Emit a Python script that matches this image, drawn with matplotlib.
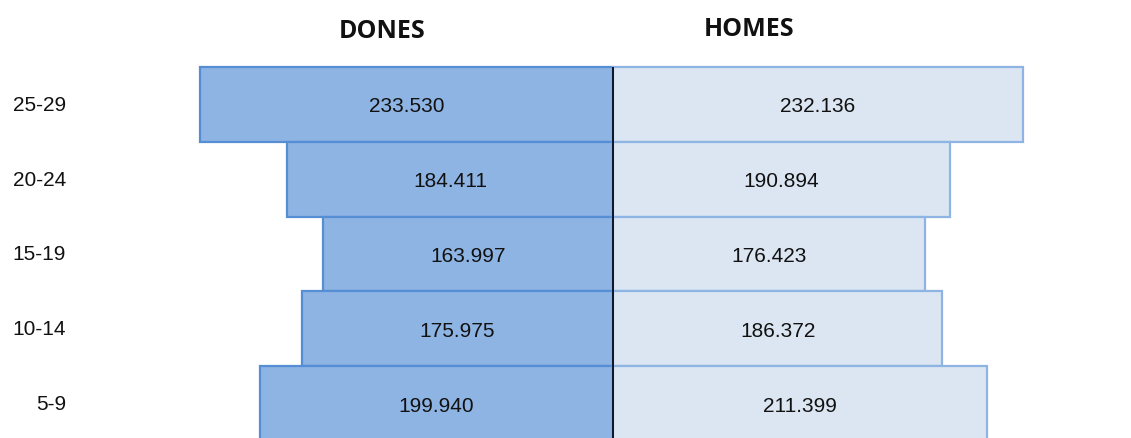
#______importing libraries__________
import matplotlib
matplotlib.use("Agg")
import matplotlib.pyplot as plt
import matplotlib.transforms as mtransforms

#______data__________
groups = ["25-29", "20-24", "15-19", "10-14", "5-9"]  # top to bottom
dones = [233530, 184411, 163997, 175975, 199940]
homes = [232136, 190894, 176423, 186372, 211399]

#______figure setup__________
W, H = 1131, 439
fig = plt.figure(figsize=(W / 100, H / 100), dpi=100)
top_px = 68     # top of the first bar, in pixels from the top
slot_px = 74.8  # height of one age group row
ax_h = len(groups) * slot_px
ax = fig.add_axes([0, (H - top_px - ax_h) / H, 1, ax_h / H])  # bottom row runs off the picture

units_per_px = 1000 / 1.767  # horizontal scale
center_px = 613
ax.set_xlim(-center_px * units_per_px, (W - center_px) * units_per_px)
ax.set_ylim(-0.5, len(groups) - 0.5)
ax.axis("off")

ypos = list(range(len(groups) - 1, -1, -1))

#______bars__________
ax.barh(ypos, [-v for v in dones], height=1.0, color="#8EB4E3",
        edgecolor="#558ED5", linewidth=1.6, clip_on=False, zorder=2)
ax.barh(ypos, homes, height=1.0, color="#DCE6F2",
        edgecolor="#8EB4E3", linewidth=1.6, clip_on=False, zorder=2)
ax.axvline(0, color="#0D1526", linewidth=1.4, zorder=3)

#______value labels__________
def fmt(v):
    return f"{v:,}".replace(",", ".")  # dot as thousands separator

for y, d, h in zip(ypos, dones, homes):
    ax.text(-d / 2, y - 0.02, fmt(d), ha="center", va="center", fontsize=15,
            family="Liberation Sans", color="#111111", zorder=4)
    ax.text(h / 2, y - 0.02, fmt(h), ha="center", va="center", fontsize=15,
            family="Liberation Sans", color="#111111", zorder=4)

#______age group labels__________
trans = mtransforms.blended_transform_factory(fig.transFigure, ax.transData)
for y, g in zip(ypos, groups):
    ax.text(66 / W, y, g, ha="right", va="center", fontsize=15,
            family="Liberation Sans", color="#111111", transform=trans)

#______titles__________
fig.text(382 / W, 1 - 38 / H, "DONES", ha="center", va="baseline",
         fontsize=18, fontweight="bold", family="Open Sans", color="#111111")
fig.text(749 / W, 1 - 36 / H, "HOMES", ha="center", va="baseline",
         fontsize=18, fontweight="bold", family="Open Sans", color="#111111")

fig.savefig("out.png", dpi=100, facecolor="white")
